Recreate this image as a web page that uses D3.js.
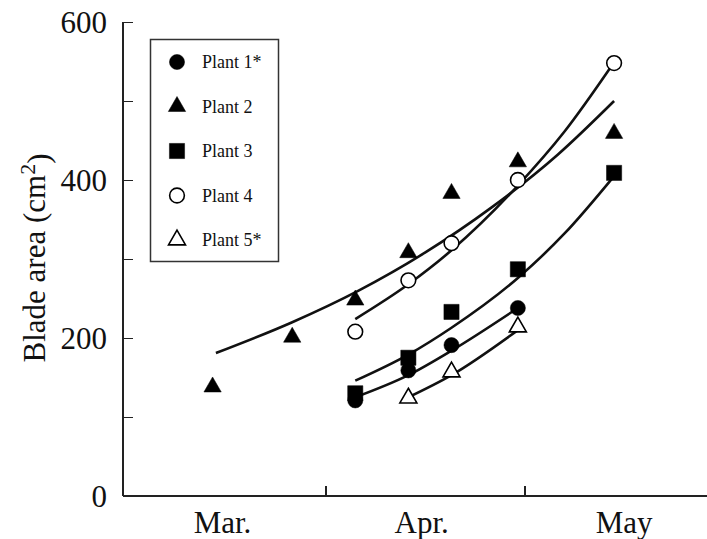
<html>
<head>
<meta charset="UTF-8"/>
<script src="https://d3js.org/d3.v7.min.js"></script>
<title>blade area</title>
<style>
body { margin:0; background:#fff; }
text { font-family: 'Liberation Serif', 'Times New Roman', serif; fill:#111; }
.axis path, .axis line { stroke:#222; stroke-width:1.5; fill:none; shape-rendering: crispEdges; }
.fit { fill:none; stroke:#111; stroke-width:2.6; }
</style>
</head>
<body>
<svg id='big' width=707 height=539></svg>
<script>
'use strict';

// sampling days (day of year, Mar 1 = 60)
var days = [74, 86, 95.5, 103.5, 110, 120, 134.5];

var plant1 = [null, null, 121, 159, 191, 238, null];
var plant2 = [138, 201, 248, 308, 383, 423, 459];
var plant3 = [null, null, 130, 175, 233, 287, 409];
var plant4 = [null, null, 208, 273, 320, 400, 548];
var plant5 = [null, null, null, 124, 157, 214, null];

// fitted curves: [day, area]
var fit1 = [[95.5,125],[103.5,153],[110,184],[120,238]];
var fit2 = [[74.5,181],[86,220],[96,260],[106,308],[116,365],[126,432],[134.5,500]];
var fit3 = [[95.5,146],[103.5,179],[110,213],[120,276],[127,332],[134.5,405]];
var fit4 = [[95.5,224],[103.5,268],[110,311],[120,393],[127,461],[134.5,549]];
var fit5 = [[103.5,125],[110,153],[120,210]];

var legendNames = ['Plant 1*', 'Plant 2', 'Plant 3', 'Plant 4', 'Plant 5*'];
var monthLabels = ['Mar.', 'Apr.', 'May'];
var monthMid = [75.5, 105.5, 136];
var monthStarts = [91, 121];
var yMajor = [0, 200, 400, 600];
var yMinor = [100, 300, 500];

var svg = d3.select('#big');

var sx = d3.scaleLinear().domain([60.5, 148.5]).range([123, 707]);
var sy = d3.scaleLinear().domain([0, 600]).range([496, 22]);

// symbol per plant
var shapes = [
	{type: d3.symbolCircle, size: 180, fill: '#000'},
	{type: d3.symbolTriangle, size: 130, fill: '#000'},
	{type: d3.symbolSquare, size: 230, fill: '#000'},
	{type: d3.symbolCircle, size: 170, fill: '#fff'},
	{type: d3.symbolTriangle, size: 125, fill: '#fff'}
];

// axes
var yAxis = d3.axisRight(sy).tickValues(yMajor.concat(yMinor)).tickSize(10).tickFormat('');
svg.append('g').attr('class', 'axis')
.attr('transform', 'translate(' + sx(60.5) + ',0)')
.call(yAxis)
.call(function(g){ g.select('.domain').attr('d', 'M0,' + sy(600) + 'V' + sy(0)); });

svg.selectAll('.ylab')
.data(yMajor)
.enter()
.append('text')
.attr('class', 'ylab')
.attr('x', sx(60.5) - 16)
.attr('y', function(d){ return sy(d); })
.attr('dy', '0.35em')
.attr('text-anchor', 'end')
.attr('font-size', 31)
.text(function(d){ return d; });

var xAxis = d3.axisTop(sx).tickValues(monthStarts).tickSize(10).tickFormat('');
svg.append('g').attr('class', 'axis')
.attr('transform', 'translate(0,' + sy(0) + ')')
.call(xAxis)
.call(function(g){ g.select('.domain').attr('d', 'M' + sx(60.5) + ',0H' + sx(148.5)); });

svg.selectAll('.xlab')
.data(monthLabels)
.enter()
.append('text')
.attr('class', 'xlab')
.attr('x', function(d, i){ return sx(monthMid[i]); })
.attr('y', 533)
.attr('text-anchor', 'middle')
.attr('font-size', 31)
.text(function(d){ return d; });

var ylabel = svg.append('text')
.attr('transform', 'translate(45,258) rotate(-90)')
.attr('text-anchor', 'middle')
.attr('font-size', 31);
ylabel.append('tspan').text('Blade area (cm');
ylabel.append('tspan').attr('dy', '-0.45em').attr('font-size', 22).text('2');
ylabel.append('tspan').attr('dy', '0.45em').text(')');

// fitted curves
var line = d3.line()
.x(function(d){ return sx(d[0]); })
.y(function(d){ return sy(d[1]); })
.curve(d3.curveMonotoneX);

svg.selectAll('.fit')
.data([fit1, fit2, fit3, fit4, fit5])
.enter()
.append('path')
.attr('class', 'fit')
.attr('d', line);

// points
var series = [plant1, plant2, plant3, plant4, plant5];
series.forEach(function(vals, k){
	var pts = vals.map(function(v, i){ return [days[i], v]; })
		.filter(function(p){ return p[1] != null; });
	svg.selectAll('.p' + k)
	.data(pts)
	.enter()
	.append('path')
	.attr('class', 'p' + k)
	.attr('transform', function(d){ return 'translate(' + sx(d[0]) + ',' + sy(d[1]) + ')'; })
	.attr('d', d3.symbol().type(shapes[k].type).size(shapes[k].size))
	.attr('fill', shapes[k].fill)
	.attr('stroke', '#000')
	.attr('stroke-width', shapes[k].fill == '#fff' ? 1.6 : 0.5);
});

// legend
var lg = svg.append('g');
lg.append('rect')
.attr('x', 150.5).attr('y', 39.5)
.attr('width', 128).attr('height', 222)
.attr('fill', 'none').attr('stroke', '#333').attr('stroke-width', 1.5);

var rows = lg.selectAll('.row')
.data(legendNames)
.enter()
.append('g')
.attr('class', 'row')
.attr('transform', function(d, i){ return 'translate(177,' + (62 + i * 44.5) + ')'; });

rows.append('path')
.attr('d', function(d, i){ return d3.symbol().type(shapes[i].type).size(shapes[i].size)(); })
.attr('fill', function(d, i){ return shapes[i].fill; })
.attr('stroke', '#000')
.attr('stroke-width', function(d, i){ return shapes[i].fill == '#fff' ? 1.6 : 0.5; });

rows.append('text')
.attr('x', 25)
.attr('dy', '0.35em')
.attr('font-size', 18)
.text(function(d){ return d; });
</script>
</body>
</html>
